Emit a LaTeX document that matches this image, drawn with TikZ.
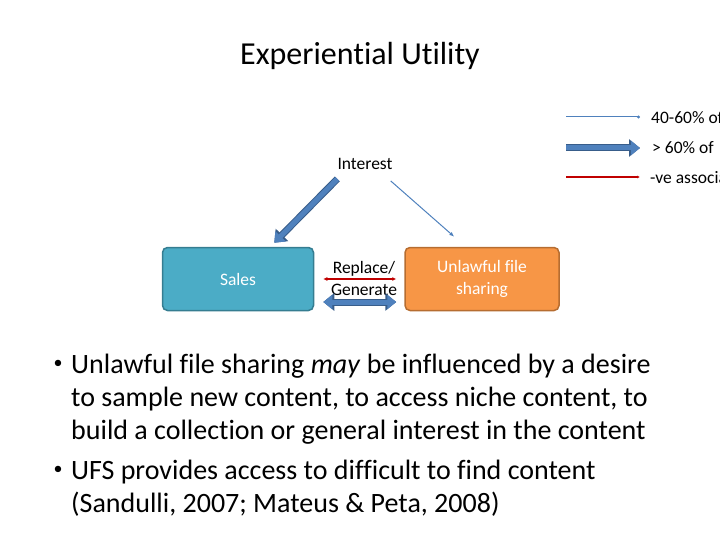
\documentclass[tikz,border=0pt]{standalone}
\usepackage{fontspec}
\setmainfont{Carlito}[Ligatures={NoCommon}]
\usetikzlibrary{positioning, arrows.meta}

\definecolor{boxblue}{HTML}{4BACC6}
\definecolor{boxblueline}{HTML}{357D91}
\definecolor{boxorange}{HTML}{F79646}
\definecolor{boxorangeline}{HTML}{B66D31}
\definecolor{arrowblue}{HTML}{4F81BD}
\definecolor{arrowblueline}{HTML}{385D8A}
\definecolor{arrowred}{HTML}{C00000}

\tikzset{
  label text/.style={inner sep=0, font=\fontsize{17.5}{22}\selectfont, align=center},
  block/.style={draw, line width=1.5pt, rounded corners=5pt, minimum width=151pt, minimum height=63pt,
    text=white, font=\fontsize{17.5}{21.5}\selectfont, align=center},
  thin arrow/.style={draw=arrowblue, line width=1pt, -{Latex[length=5pt,width=4pt]}},
  red arrow/.style={draw=arrowred, line width=1.2pt},
  fat arrow/.style={draw=arrowblue, line width=5pt, -{Triangle[width=14pt,length=9pt]},
    preaction={draw=arrowblueline, line width=7pt, -{Triangle[width=17pt,length=11pt]}}},
  fat double/.style={draw=arrowblue, line width=5pt, {Triangle[width=14pt,length=9pt]}-{Triangle[width=14pt,length=9pt]},
    preaction={draw=arrowblueline, line width=7pt, {Triangle[width=17pt,length=11pt]}-{Triangle[width=17pt,length=11pt]}}},
  bullet text/.style={inner sep=0, anchor=north west, align=left, font=\fontsize{28}{33}\selectfont},
  bullet dot/.style={inner sep=0, anchor=north, font=\fontsize{18}{33}\selectfont}
}

\begin{document}
\begin{tikzpicture}[x=1pt, y=-1pt]
  \useasboundingbox (0,0) rectangle (720,540);
  \node[inner sep=0, font=\fontsize{32}{36}\selectfont] (title) at (360,56) {Experiential Utility};

  % legend
  \coordinate (l1a) at (566,117);
  \coordinate (l1b) at (640,117);
  \coordinate (l2a) at (566,148);
  \coordinate (l2b) at (640,148);
  \coordinate (l3a) at (566,177);
  \coordinate (l3b) at (640,177);
  \draw[thin arrow, -{Circle[length=3pt]}] (l1a) -- (l1b);
  \draw[fat arrow] (l2a) -- (l2b);
  \draw[red arrow, -{Latex[length=3pt,width=3pt]}] (l3a) -- (l3b);
  \node[label text, anchor=west] (leg1) at (651,118) {40-60\% of};
  \node[label text, anchor=west] (leg2) at (652,148) {> 60\% of};
  \node[label text, anchor=west] (leg3) at (650,178) {-ve association};

  % triangle
  \node[label text] (interest) at (365,164) {Interest};
  \node[block, fill=boxblue, draw=boxblueline] (sales) at (238,279) {Sales};
  \node[block, fill=boxorange, draw=boxorangeline, minimum width=154pt] (ufs) at (482,279) {Unlawful file\\sharing};
  \node[label text] (replace) at (364,278) {Replace/\\Generate};

  \draw[fat arrow] ([xshift=0pt, yshift=-9pt]interest.south west) -- ([xshift=-40pt, yshift=4pt]sales.north east);
  \draw[thin arrow] ([xshift=-2pt, yshift=-11pt]interest.south east) -- ([xshift=50pt, yshift=10pt]ufs.north west);
  \draw[red arrow, {Latex[length=4pt,width=4pt]}-{Latex[length=4pt,width=4pt]}, shorten <=9pt, shorten >=8pt] (sales.east) -- (ufs.west);
  \draw[fat double, shorten <=9pt, shorten >=8pt] ([yshift=-23pt]sales.east) -- ([yshift=-23pt]ufs.west);

  % bullets
  \node[bullet text] (b1) at (71,354) {Unlawful file sharing \textit{may} be influenced by a desire\\to sample new content, to access niche content, to\\build a collection or general interest in the content};
  \node[bullet text] (b2) at (71,460) {UFS provides access to difficult to find content\\(Sandulli, 2007; Mateus \& Peta, 2008)};
  \node[bullet dot] (d1) at (58,360) {•};
  \node[bullet dot] (d2) at (58,466) {•};
\end{tikzpicture}
\end{document}
